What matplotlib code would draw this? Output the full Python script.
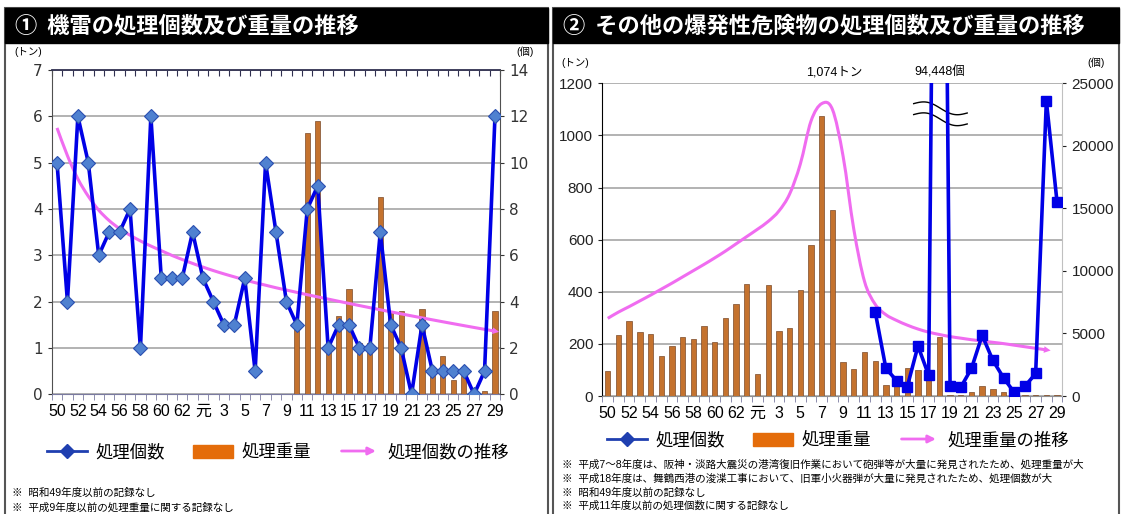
import numpy as np
import matplotlib
matplotlib.use("Agg")
import matplotlib.pyplot as plt
from matplotlib.patches import Rectangle, FancyArrowPatch, PathPatch
from matplotlib.path import Path
from matplotlib.lines import Line2D
from matplotlib.legend_handler import HandlerBase

plt.rcParams['font.family'] = ['Liberation Sans', 'Noto Sans CJK JP']

# fiscal years: Showa 50-63, Heisei 1(元)-29
years = ['50', '51', '52', '53', '54', '55', '56', '57', '58', '59', '60', '61', '62', '63',
         '元', '2', '3', '4', '5', '6', '7', '8', '9', '10', '11', '12', '13', '14', '15',
         '16', '17', '18', '19', '20', '21', '22', '23', '24', '25', '26', '27', '28', '29']

# chart 1: sea mines
mine_count = [10, 4, 12, 10, 6, 7, 7, 8, 2, 12, 5, 5, 5, 7,
              5, 4, 3, 3, 5, 1, 10, 7, 4, 3, 8, 9, 2, 3, 3, 2, 2, 7, 3, 2,
              0, 3, 1, 1, 1, 1, 0, 1, 12]
mine_weight = [None] * 23 + [1.5, 5.65, 5.9, 1.0, 1.7, 2.28, 1.1, 1.1, 4.25, 1.8, 1.8,
                             0, 1.85, 0.55, 0.83, 0.3, 0.4, 0, 0.08, 1.8]
mine_trend = [11.5, 10.3, 9.3, 8.55, 7.95, 7.5, 7.15, 6.87, 6.62, 6.4, 6.2, 6.0, 5.82,
              5.65, 5.49, 5.34, 5.2, 5.07, 4.94, 4.82, 4.71, 4.6, 4.5, 4.4, 4.3, 4.205,
              4.11, 4.016, 3.923, 3.831, 3.74, 3.65, 3.561, 3.473, 3.386, 3.3, 3.215,
              3.131, 3.048, 2.966, 2.885, 2.805, 2.726]

# chart 2: other explosive ordnance
other_weight = [97, 234, 288, 244, 238, 154, 192, 228, 219, 269, 207, 298, 352, 430,
                86, 426, 249, 261, 407, 580, 1074, 713, 129, 102, 168, 134, 42, 45, 106,
                100, 90, 228, 5, 5, 17, 38, 26, 17, 5, 3, 2, 2, 4]
other_count = [None] * 25 + [6740, 2210, 1230, 750, 4000, 1650, 94448, 800, 700, 2200,
                             4850, 2850, 1450, 280, 780, 1800, 23600, 15500]
other_trend = [298, 322, 343, 365, 387, 410, 433, 457, 481, 505, 530, 556, 584, 612,
               640, 670, 710, 775, 890, 1055, 1122, 1100, 920, 640, 440, 352, 312, 290,
               272, 257, 245, 236, 228, 222, 216, 211, 206, 201, 195, 189, 183, 177]

BLUE = '#0000E6'
PINK = '#F06CF0'
BAR = '#C4722E'
BAR_LEG = '#E46C0A'
GRID = '#A6A6A6'
W, H = 1123, 514


def fx(px):
    return px / W


def fy(py):
    return 1 - py / H


def smooth(ax, ys, **kw):
    xs = list(range(len(ys)))
    n = len(xs)
    verts = [(xs[0], ys[0])]
    codes = [Path.MOVETO]
    for k in range(n - 1):
        a = max(k - 1, 0)
        d = min(k + 2, n - 1)
        c1 = (xs[k] + (xs[k + 1] - xs[a]) / 6, ys[k] + (ys[k + 1] - ys[a]) / 6)
        c2 = (xs[k + 1] - (xs[d] - xs[k]) / 6, ys[k + 1] - (ys[d] - ys[k]) / 6)
        verts += [c1, c2, (xs[k + 1], ys[k + 1])]
        codes += [Path.CURVE4] * 3
    ax.add_patch(PathPatch(Path(verts, codes), fill=False, **kw))
    ax.annotate('', xy=(xs[-1] + 0.4, ys[-1] + (ys[-1] - ys[-2]) * 0.4), xytext=(xs[-1], ys[-1]),
                arrowprops=dict(arrowstyle='-|>', color=PINK, lw=0, mutation_scale=12))


class ArrowHandler(HandlerBase):
    def create_artists(self, legend, orig_handle, xdescent, ydescent, width, height, fontsize, trans):
        y = (height - ydescent) / 2
        a = FancyArrowPatch((-xdescent, y), (width - xdescent, y), arrowstyle='-|>',
                            mutation_scale=11, color=PINK, lw=2, transform=trans)
        return [a]


fig = plt.figure(figsize=(W / 100, H / 100), dpi=100)

# panels and title bars
for x0, x1, title in [(5, 548, '①  機雷の処理個数及び重量の推移'),
                      (553, 1119, '②  その他の爆発性危険物の処理個数及び重量の推移')]:
    fig.add_artist(Rectangle((fx(x0), fy(530)), fx(x1 - x0), (530 - 8) / H, transform=fig.transFigure,
                             fill=False, edgecolor='#555555', lw=1.5))
    fig.add_artist(Rectangle((fx(x0), fy(43)), fx(x1 - x0), 35 / H, transform=fig.transFigure,
                             facecolor='black', edgecolor='black'))
    fig.text(fx(x0 + 10), fy(26), title, color='white', fontsize=16, fontweight='bold',
             va='center', ha='left', family=['Noto Sans CJK JP'])

x = np.arange(len(years))
tick_font = ['Liberation Sans', 'Noto Sans CJK JP']

# ---------- chart 1 ----------
ax1 = fig.add_axes([fx(51.8), fy(394.3), fx(500.2 - 51.8), 324.3 / H])
ax1r = ax1.twinx()
wt = [np.nan if v is None else v for v in mine_weight]
ax1.bar(x, wt, width=0.5, color=BAR, edgecolor='#7A4A2A', linewidth=0.5, zorder=2)
ax1.set_xlim(-0.5, 42.5)
ax1.set_ylim(0, 7)
ax1.set_yticks(range(0, 8))
ax1.set_axisbelow(True)
ax1.grid(axis='y', color=GRID, lw=1.2)
smooth(ax1r, mine_trend, edgecolor=PINK, lw=2.2, zorder=2)
ax1r.plot(x, mine_count, color=BLUE, lw=2.6, marker='D', markersize=7.5,
          markerfacecolor='#4F81D0', markeredgecolor='#2A4FB0', markeredgewidth=0.8, zorder=3)
ax1r.set_ylim(0, 14)
ax1r.set_yticks(range(0, 15, 2))
for s in ['top', 'left', 'bottom']:
    ax1r.spines[s].set_visible(False)
ax1r.spines['right'].set_color('#505050')
ax1.spines['left'].set_color('#505050')
ax1.spines['right'].set_visible(False)
ax1.spines['top'].set_color('#303050')
ax1.spines['top'].set_linewidth(1.3)
ax1.spines['bottom'].set_color('#7A7AA0')
top = ax1.secondary_xaxis('top')
top.set_xticks(np.arange(-0.5, 43, 1))
top.tick_params(direction='in', length=4, labeltop=False, color='#303050')
top.spines['top'].set_visible(False)
for a in (ax1, ax1r):
    a.tick_params(axis='y', labelsize=11, length=3, colors='#333333')
    for lab in a.get_yticklabels():
        lab.set_family('DejaVu Sans')

# ---------- chart 2 ----------
ax2 = fig.add_axes([fx(602.4), fy(396), fx(1062.4 - 602.4), 312.7 / H])
ax2r = ax2.twinx()
ax2.bar(x, other_weight, width=0.5, color=BAR, edgecolor='#7A4A2A', linewidth=0.5, zorder=2)
ax2.set_xlim(-0.5, 42.5)
ax2.set_ylim(0, 1200)
ax2.set_yticks(range(0, 1201, 200))
ax2.set_axisbelow(True)
ax2.grid(axis='y', color=GRID, lw=1.2)
smooth(ax2, other_trend, edgecolor=PINK, lw=2.2, zorder=3)
oc = [np.nan if v is None else v for v in other_count]
ax2r.plot(x, oc, color=BLUE, lw=2.6, marker='s', markersize=6.5,
          markerfacecolor=BLUE, markeredgecolor=BLUE, zorder=3)
ax2r.set_ylim(0, 25000)
ax2r.set_yticks(range(0, 25001, 5000))
for s in ['top', 'left', 'bottom']:
    ax2r.spines[s].set_visible(False)
ax2r.spines['right'].set_color('#C0C0C0')
ax2.spines['top'].set_visible(False)
ax2.spines['right'].set_visible(False)
ax2.spines['left'].set_color('black')
ax2.spines['bottom'].set_color('#909090')
for a in (ax2, ax2r):
    a.tick_params(axis='y', labelsize=11, length=3, colors='#222222')

for a in (ax1, ax2):
    a.set_xticks(x[::2])
    a.set_xticklabels(years[::2], fontsize=11.5, family=tick_font)
    a.set_xticks(np.arange(-0.5, 43, 1), minor=True)
    a.tick_params(axis='x', which='major', length=0, pad=7)
    a.tick_params(axis='x', which='minor', length=4, color='#7A7AA0')

# break mark and notes on chart 2
i18 = years.index('18')
t = np.linspace(0, 1, 60)
for y0 in (0.935, 0.9):
    ax2.plot(28.6 + 5.0 * t, y0 - 0.03 * t + 0.012 * np.sin(2 * np.pi * t),
             transform=ax2.get_xaxis_transform(), color='black', lw=1, clip_on=False, zorder=5)
ax2.text(years.index('7') + 1.2, 1.015, '1,074トン', transform=ax2.get_xaxis_transform(),
         ha='center', va='bottom', fontsize=9)
ax2.text(i18, 1.015, '94,448個', transform=ax2.get_xaxis_transform(),
         ha='center', va='bottom', fontsize=9)

# unit labels
for px, py, s in [(28, 52, '(トン)'), (525, 52, '(個)'), (575, 63, '(トン)'), (1096, 63, '(個)')]:
    fig.text(fx(px), fy(py), s, fontsize=7.5, ha='center', va='center')

# legends
pink_handle = Line2D([], [], color=PINK)
for cx, cy, lab3, ms in [(278, 452, '処理個数の推移', 'D'), (838, 440, '処理重量の推移', 'D')]:
    h1 = Line2D([], [], color='#1F3FB0', lw=2, marker=ms, markersize=7,
                markerfacecolor='#1F3FB0', markeredgecolor='#1F3FB0')
    h2 = Rectangle((0, 0), 1, 1, facecolor=BAR_LEG, edgecolor=BAR_LEG)
    fig.legend([h1, h2, pink_handle], ['処理個数', '処理重量', lab3], loc='center',
               bbox_to_anchor=(fx(cx), fy(cy)), ncol=3, frameon=False, fontsize=12.5,
               handlelength=2.3, handleheight=0.8, columnspacing=1.6, handletextpad=0.5,
               handler_map={pink_handle: ArrowHandler()})

notes1 = ['※  昭和49年度以前の記録なし', '※  平成9年度以前の処理重量に関する記録なし']
notes2 = ['※  平成7～8年度は、阪神・淡路大震災の港湾復旧作業において砲弾等が大量に発見されたため、処理重量が大',
          '※  平成18年度は、舞鶴西港の浚渫工事において、旧軍小火器弾が大量に発見されたため、処理個数が大',
          '※  昭和49年度以前の記録なし',
          '※  平成11年度以前の処理個数に関する記録なし']
for k, s in enumerate(notes1):
    fig.text(fx(12), fy(493 + 15 * k), s, fontsize=7.6, va='center', ha='left')
for k, s in enumerate(notes2):
    fig.text(fx(562), fy(465 + 13.7 * k), s, fontsize=7.6, va='center', ha='left')

fig.savefig('out.png', dpi=100)
